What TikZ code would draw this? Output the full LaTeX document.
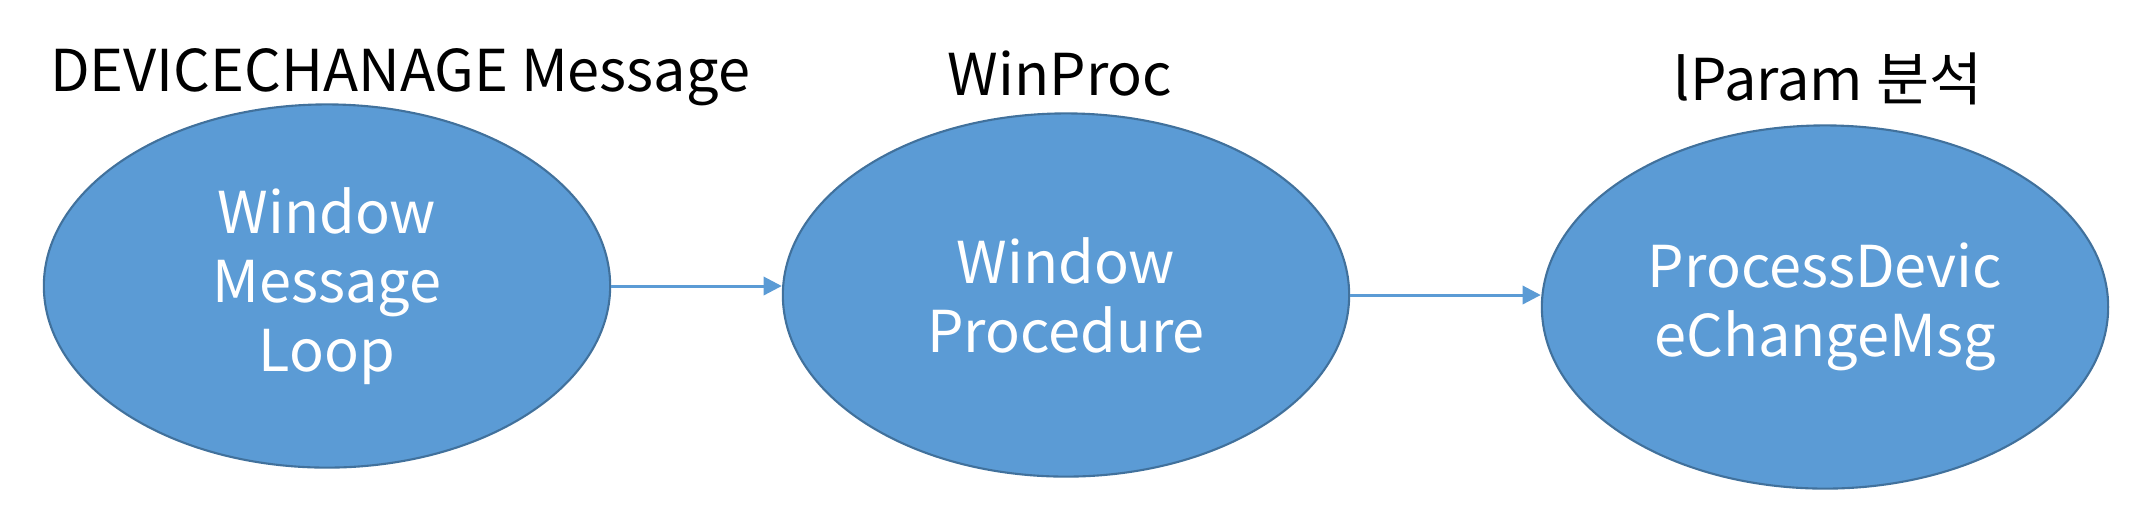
\documentclass[tikz,border=0pt]{standalone}
\usepackage{fontspec}
\setmainfont{Noto Sans CJK KR}
\usetikzlibrary{arrows.meta,positioning,shapes.geometric}
\definecolor{msgblue}{HTML}{5B9BD5}
\definecolor{msgedge}{HTML}{41719C}
\tikzset{
  every node/.style={font=\fontsize{16.4}{19.6}\selectfont},
  stage/.style={ellipse, draw=msgedge, line width=0.6pt, fill=msgblue, text=white, align=center, minimum width=5.66cm, minimum height=3.63cm, inner sep=0pt},
  caption/.style={anchor=base, text=black},
  flow/.style={-{Triangle[length=5.2pt,width=5.2pt]}, line width=0.85pt, draw=msgblue},
}
\begin{document}
\begin{tikzpicture}[x=0.01cm, y=-0.01cm]
\useasboundingbox (0,0) rectangle (2134,523);
\node[stage] (loop) at (327,286) {Window\\Message\\Loop};
\node[stage] (proc) at (1066,295) {Window\\Procedure};
\node[stage] (dev) at (1825,307) {ProcessDevic\\eChangeMsg};
\node[caption] (lmsg) at (400,91) {DEVICECHANAGE Message};
\node[caption] (lproc) at (1060,95) {WinProc};
\node[caption] (ldev) at (1828,100) {lParam 분석};
\draw[flow] (loop.east) -- (loop.east -| proc.west);
\draw[flow] (proc.east) -- (proc.east -| dev.west);
\end{tikzpicture}
\end{document}
